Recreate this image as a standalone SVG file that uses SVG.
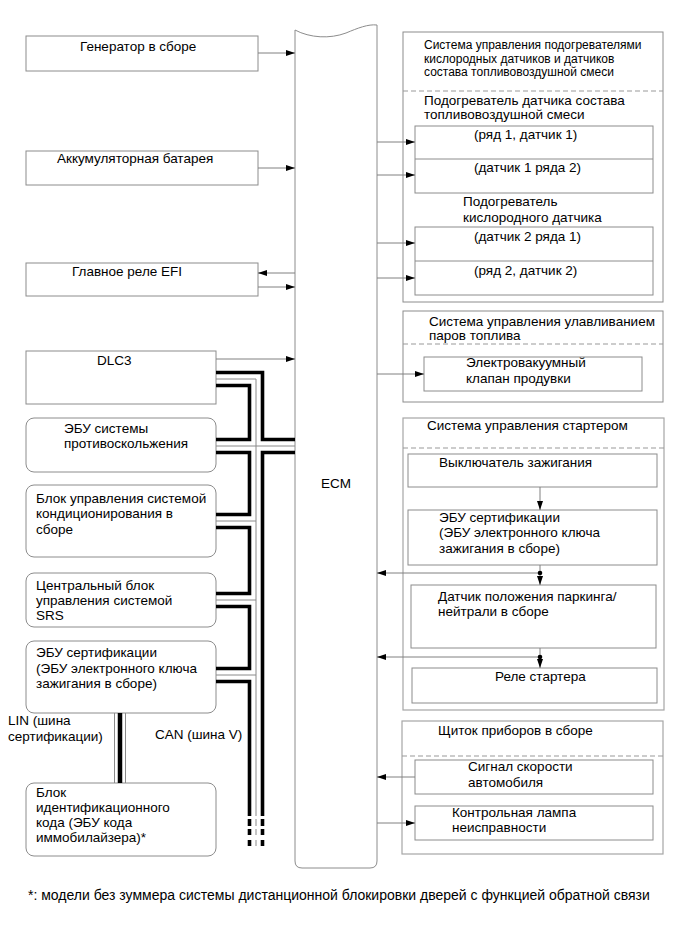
<svg xmlns="http://www.w3.org/2000/svg" width="690" height="952" viewBox="0 0 690 952">
<defs>
<marker id="ah" markerUnits="userSpaceOnUse" markerWidth="10" markerHeight="7" refX="9" refY="3.5" orient="auto">
<path d="M0,0.5 L9,3.5 L0,6.5 z" fill="#000"/>
</marker>
<style>
text{font-family:"Liberation Sans",Arial,sans-serif;font-size:13.5px;fill:#000}
.sm{font-size:12px}
.fn{font-size:14px}
.box{fill:#fff;stroke:#8c8c8c;stroke-width:1}
.lbox{fill:#fff;stroke:#a6a6a6;stroke-width:1.2}
.dash{stroke:#999;stroke-width:1;stroke-dasharray:5,3;fill:none}
.ar{stroke:#808080;stroke-width:1;fill:none;marker-end:url(#ah)}
.bk{stroke:#000;stroke-width:3.6;fill:none;stroke-linejoin:miter;stroke-linecap:butt}
.gr{stroke:#8a8a8a;stroke-width:1;fill:none}
</style>
</defs>
<rect width="690" height="952" fill="#fff"/>

<g id="ecm">
<path class="box" d="M295,30 C310,38 330,39 346,33 C358,28 368,24 377,25 L377,861 Q377,868 370,868 L302,868 Q295,868 295,861 Z"/>
<text x="336" y="488" text-anchor="middle">ECM</text>
</g>

<g id="generator"><rect class="box" x="26" y="36" width="232" height="35"/><text x="80" y="51">Генератор в сборе</text></g>
<g id="battery"><rect class="box" x="26" y="151" width="232" height="34"/><text x="57" y="163">Аккумуляторная батарея</text></g>
<g id="efi"><rect class="box" x="26" y="263" width="232" height="33"/><text x="72" y="276">Главное реле EFI</text></g>
<g id="dlc3"><rect class="box" x="26" y="351" width="190" height="53"/><text x="97" y="365">DLC3</text></g>
<g id="abs"><rect class="box" x="26" y="418" width="190" height="54" rx="8"/><text x="64" y="433">ЭБУ системы</text><text x="64" y="448">противоскольжения</text></g>
<g id="ac"><rect class="box" x="26" y="485" width="190" height="72" rx="8"/><text x="36" y="503">Блок управления системой</text><text x="36" y="518">кондиционирования в</text><text x="36" y="534">сборе</text></g>
<g id="srs"><rect class="box" x="26" y="573" width="190" height="54" rx="8"/><text x="36" y="590">Центральный блок</text><text x="36" y="605">управления системой</text><text x="36" y="620">SRS</text></g>
<g id="cert-left"><rect class="box" x="26" y="641" width="190" height="72" rx="8"/><text x="36" y="657">ЭБУ сертификации</text><text x="36" y="673">(ЭБУ электронного ключа</text><text x="36" y="688">зажигания в сборе)</text></g>
<g id="immo"><rect class="box" x="26" y="783" width="190" height="73" rx="8"/><text x="36" y="797">Блок</text><text x="36" y="812">идентификационного</text><text x="36" y="827">кода (ЭБУ кода</text><text x="36" y="842">иммобилайзера)*</text></g>

<g id="heater-sys">
<rect class="box" x="403" y="32" width="260" height="270"/>
<line class="dash" x1="403" y1="91" x2="663" y2="91"/>
<text class="sm" x="424" y="49">Система управления подогревателями</text>
<text class="sm" x="424" y="63">кислородных датчиков и датчиков</text>
<text class="sm" x="424" y="76">состава топливовоздушной смеси</text>
<text x="424" y="105">Подогреватель датчика состава</text>
<text x="424" y="119">топливовоздушной смеси</text>
<rect class="box" x="415" y="126" width="238" height="67"/>
<line class="box" x1="415" y1="159" x2="653" y2="159"/>
<text x="474" y="139">(ряд 1, датчик 1)</text>
<text x="474" y="172">(датчик 1 ряда 2)</text>
<text x="463" y="206">Подогреватель</text>
<text x="463" y="222">кислородного датчика</text>
<rect class="box" x="415" y="227" width="238" height="68"/>
<line class="box" x1="415" y1="261" x2="653" y2="261"/>
<text x="474" y="241">(датчик 2 ряда 1)</text>
<text x="474" y="275">(ряд 2, датчик 2)</text>
</g>

<g id="evap-sys">
<rect class="box" x="403" y="311" width="260" height="91"/>
<line class="dash" x1="403" y1="344" x2="663" y2="344"/>
<text x="429" y="326">Система управления улавливанием</text>
<text x="429" y="340">паров топлива</text>
<rect class="box" x="424" y="357" width="218" height="34"/>
<text x="466" y="367">Электровакуумный</text>
<text x="466" y="383">клапан продувки</text>
</g>

<g id="starter-sys">
<rect class="lbox" x="403" y="418" width="261" height="292"/>
<line class="dash" x1="403" y1="448" x2="664" y2="448"/>
<text x="427" y="430">Система управления стартером</text>
<rect class="box" x="408" y="454" width="249" height="33"/>
<text x="439" y="467">Выключатель зажигания</text>
<rect class="box" x="408" y="510" width="249" height="55"/>
<text x="439" y="522">ЭБУ сертификации</text>
<text x="439" y="537">(ЭБУ электронного ключа</text>
<text x="439" y="553">зажигания в сборе)</text>
<rect class="box" x="411" y="585" width="245" height="63"/>
<text x="438" y="601">Датчик положения паркинга/</text>
<text x="438" y="616">нейтрали в сборе</text>
<rect class="box" x="412" y="668" width="245" height="35"/>
<text x="495" y="681">Реле стартера</text>
</g>

<g id="cluster">
<rect class="lbox" x="402" y="721" width="261" height="133"/>
<line class="dash" x1="402" y1="756" x2="663" y2="756"/>
<text x="438" y="735">Щиток приборов в сборе</text>
<rect class="box" x="415" y="760" width="238" height="34"/>
<text x="468" y="771">Сигнал скорости</text>
<text x="468" y="787">автомобиля</text>
<rect class="box" x="415" y="806" width="238" height="34"/>
<text x="452" y="817">Контрольная лампа</text>
<text x="452" y="832">неисправности</text>
</g>

<g id="connectors">
<line class="ar" x1="258" y1="53" x2="295" y2="53"/>
<line class="ar" x1="258" y1="168" x2="295" y2="168"/>
<line class="ar" x1="295" y1="273" x2="258" y2="273"/>
<line class="ar" x1="258" y1="287" x2="295" y2="287"/>
<line class="ar" x1="216" y1="359" x2="295" y2="359"/>
<line class="ar" x1="377" y1="142" x2="415" y2="142"/>
<line class="ar" x1="377" y1="175" x2="415" y2="175"/>
<line class="ar" x1="377" y1="243" x2="415" y2="243"/>
<line class="ar" x1="377" y1="278" x2="415" y2="278"/>
<line class="ar" x1="377" y1="374" x2="424" y2="374"/>
<line class="ar" x1="540" y1="487" x2="540" y2="510"/>
<line class="ar" x1="540" y1="565" x2="540" y2="585"/>
<line class="ar" x1="540" y1="648" x2="540" y2="668"/>
<line class="ar" x1="540" y1="573" x2="377" y2="573"/>
<line class="ar" x1="540" y1="657" x2="377" y2="657"/>
<circle cx="540" cy="573" r="2.3" fill="#000"/>
<circle cx="540" cy="657" r="2.3" fill="#000"/>
<line class="ar" x1="415" y1="777" x2="377" y2="777"/>
<line class="ar" x1="377" y1="823" x2="415" y2="823"/>

<polyline class="gr" points="216,379 256,379 256,816"/>
<line class="gr" x1="216" y1="446" x2="295" y2="446"/>
<line class="gr" x1="216" y1="521" x2="256" y2="521"/>
<line class="gr" x1="216" y1="600" x2="256" y2="600"/>
<line class="gr" x1="216" y1="675" x2="256" y2="675"/>
<polyline class="bk" points="216,372.5 262.5,372.5 262.5,439.5 295,439.5"/>
<polyline class="bk" points="295,452.5 262.5,452.5 262.5,816"/>
<polyline class="bk" points="216,385.5 249.5,385.5 249.5,439.5 216,439.5"/>
<polyline class="bk" points="216,452.5 249.5,452.5 249.5,514.5 216,514.5"/>
<polyline class="bk" points="216,527.5 249.5,527.5 249.5,593.5 216,593.5"/>
<polyline class="bk" points="216,606.5 249.5,606.5 249.5,668.5 216,668.5"/>
<polyline class="bk" points="216,681.5 249.5,681.5 249.5,816"/>
<g stroke="#000" stroke-width="3.6">
<line x1="249.5" y1="819" x2="249.5" y2="826"/><line x1="249.5" y1="829" x2="249.5" y2="835"/><line x1="249.5" y1="840" x2="249.5" y2="846"/>
<line x1="262.5" y1="819" x2="262.5" y2="826"/><line x1="262.5" y1="829" x2="262.5" y2="835"/><line x1="262.5" y1="840" x2="262.5" y2="846"/>
</g>
<g class="gr"><line x1="256" y1="819" x2="256" y2="826"/><line x1="256" y1="829" x2="256" y2="835"/><line x1="256" y1="840" x2="256" y2="846"/></g>

<line class="gr" x1="114.5" y1="713" x2="114.5" y2="783"/>
<line class="gr" x1="125.5" y1="713" x2="125.5" y2="783"/>
<line stroke="#000" stroke-width="4.5" x1="120" y1="713" x2="120" y2="783"/>
</g>

<g id="labels">
<text x="8" y="725">LIN (шина</text>
<text x="8" y="741">сертификации)</text>
<text x="155" y="739">CAN (шина V)</text>
<text class="fn" x="28" y="900">*: модели без зуммера системы дистанционной блокировки дверей с функцией обратной связи</text>
</g>
</svg>
